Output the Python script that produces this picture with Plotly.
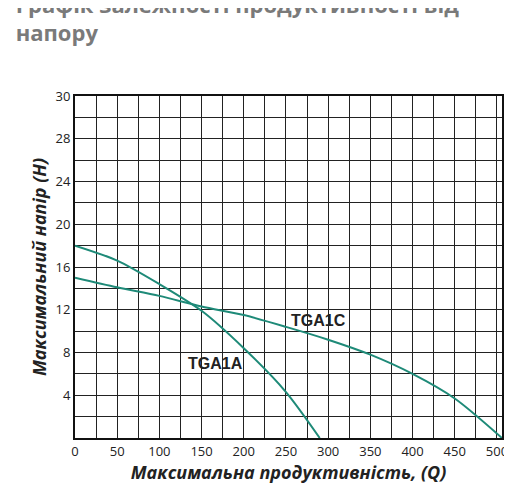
import plotly.graph_objects as go

q_a = [0, 50, 100, 150, 200, 250, 290]
h_a = [18, 16.6, 14.4, 11.9, 8.4, 4.3, 0]
q_c = [0, 50, 100, 150, 200, 250, 300, 350, 400, 450, 506]
h_c = [15, 14.1, 13.3, 12.3, 11.5, 10.4, 9.2, 7.8, 6.0, 3.7, 0]
x_ticks = list(range(0, 501, 50))
y_vals = [4, 8, 12, 16, 20, 24, 28, 32]
y_text = ["4", "8", "12", "16", "20", "24", "28", "30"]

col = "#1e8a78"
fig = go.Figure()
fig.add_trace(go.Scatter(x=q_a, y=h_a, mode="lines", line=dict(color=col, width=2, shape="spline", smoothing=0.8), showlegend=False))
fig.add_trace(go.Scatter(x=q_c, y=h_c, mode="lines", line=dict(color=col, width=2, shape="spline", smoothing=0.8), showlegend=False))
fig.add_annotation(x=288, y=11, text="<b>TGA1C</b>", showarrow=False, font=dict(family="Liberation Sans", size=16, color="#222"))
fig.add_annotation(x=167, y=7, text="<b>TGA1A</b>", showarrow=False, font=dict(family="Liberation Sans", size=16, color="#222"))

fig.update_layout(
    width=512, height=484, plot_bgcolor="white", paper_bgcolor="white",
    margin=dict(l=67, r=18, t=88, b=54),
    title=dict(text="Графік залежності продуктивності від<br>напору", x=0.015, xanchor="left",
               yref="container", y=0.99, yanchor="top",
               font=dict(family="Open Sans", size=22, color="#7a7a7a", weight="bold")),
    xaxis=dict(range=[0, 506], tickvals=x_ticks, showgrid=True, gridcolor="#222", gridwidth=1, automargin=False,
               minor=dict(dtick=25, showgrid=True, gridcolor="#222"),
               showline=True, linecolor="#111", linewidth=2, mirror=True, zeroline=False,
               tickfont=dict(family="Open Sans", size=13, color="#222"),
               title=dict(text="<i>Максимальна продуктивність, (Q)</i>", standoff=6,
                          font=dict(family="Open Sans", size=18, color="#222", weight="bold"))),
    yaxis=dict(range=[0, 32], tickvals=y_vals, ticktext=y_text, showgrid=True, gridcolor="#222", gridwidth=1, automargin=False,
               minor=dict(dtick=2, showgrid=True, gridcolor="#222"),
               showline=True, linecolor="#111", linewidth=2, mirror=True, zeroline=False,
               tickfont=dict(family="Open Sans", size=13, color="#222"),
               title=dict(text="<i>Максимальний напір (H)</i>", standoff=4,
                          font=dict(family="Open Sans", size=18, color="#222", weight="bold"))),
)
fig.write_html("out.html")
